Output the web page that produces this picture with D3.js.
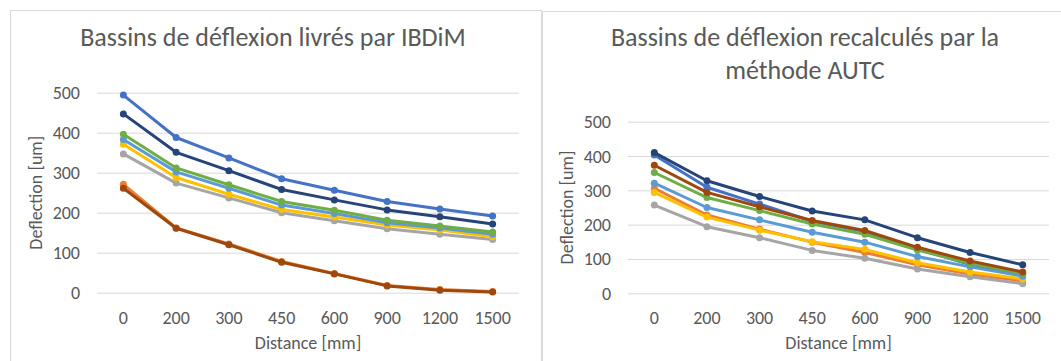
<!DOCTYPE html>
<html><head><meta charset="utf-8">
<script src="https://cdn.jsdelivr.net/npm/d3@7"></script>
<style>
body{margin:0;background:#fff;}
svg text{font-family:Carlito,Calibri,Lato,"Open Sans",sans-serif;fill:#595959;}
</style></head>
<body><svg id="c" width="1061" height="361"></svg>
<script>
const categories = ["0","200","300","450","600","900","1200","1500"];
const yTicks = [0,100,200,300,400,500];
const seriesColors = ["#4472C4","#ED7D31","#A5A5A5","#FFC000","#5B9BD5","#70AD47","#264478","#9E480E"];

// Left chart: IBDiM (series order: blue, orange, gray, yellow, light blue, green, dark blue, brown)
const leftBlue      = [494,388,337,285,256,228,209,192];
const leftOrange    = [271,162,122,78,48,18,8,3];
const leftGray      = [347,274,237,200,180,160,146,133];
const leftYellow    = [371,288,246,208,189,169,157,140];
const leftLightBlue = [383,302,261,219,198,175,162,146];
const leftGreen     = [396,312,270,228,206,181,167,152];
const leftDarkBlue  = [447,351,305,258,232,207,190,172];
const leftBrown     = [261,161,120,76,47,17,6,2];

// Right chart: AUTC
const rightBlue      = [403,309,260,210,180,130,84,56];
const rightOrange    = [306,228,187,149,119,83,56,36];
const rightGray      = [257,194,162,125,102,71,48,28];
const rightYellow    = [294,222,184,150,128,89,62,42];
const rightLightBlue = [321,250,214,178,149,107,77,50];
const rightGreen     = [352,279,241,202,172,126,87,58];
const rightDarkBlue  = [410,328,282,240,214,162,119,83];
const rightBrown     = [373,294,252,212,183,134,94,62];

const leftSeries = [leftBlue,leftOrange,leftGray,leftYellow,leftLightBlue,leftGreen,leftDarkBlue,leftBrown];
const rightSeries = [rightBlue,rightOrange,rightGray,rightYellow,rightLightBlue,rightGreen,rightDarkBlue,rightBrown];

const svg = d3.select("#c");
// chart frames
svg.append("rect").attr("x",10.5).attr("y",10.5).attr("width",531).attr("height",360)
  .attr("fill","#fff").attr("stroke","#D9D9D9");
svg.append("rect").attr("x",542.5).attr("y",11.5).attr("width",530).attr("height",360)
  .attr("fill","#fff").attr("stroke","#D9D9D9");

const TICK_FS = "18px", TITLE_FS = "26px";

function drawChart(cfg){
  const g = svg.append("g");
  const x = d3.scaleBand().domain(categories).range([cfg.x0,cfg.x1]);
  const y = d3.scaleLinear().domain([0,500]).range([cfg.yBottom,cfg.yTop]);
  // title
  cfg.title.forEach((t,i)=>{
    g.append("text").attr("x",cfg.titleX).attr("y",cfg.titleY + i*33)
      .attr("text-anchor","middle").attr("dominant-baseline","central")
      .style("font-size",TITLE_FS).text(t);
  });
  // grid
  const yAxis = d3.axisLeft(y).tickValues(yTicks).tickSize(-(cfg.x1-cfg.x0)).tickPadding(17);
  const ya = g.append("g").attr("transform",`translate(${cfg.x0},0)`).call(yAxis);
  ya.attr("font-family",null).attr("font-size",null);
  ya.select(".domain").remove();
  ya.selectAll("line").attr("stroke","#D9D9D9").attr("stroke-width",1);
  ya.selectAll("text").style("font-size",TICK_FS).attr("fill","#595959")
    .attr("dy",null).attr("dominant-baseline","central");
  const xAxis = d3.axisBottom(x).tickSize(0).tickPadding(25);
  const xa = g.append("g").attr("transform",`translate(0,${cfg.yBottom})`).call(xAxis);
  xa.attr("font-family",null).attr("font-size",null);
  xa.select(".domain").remove();
  xa.selectAll("text").style("font-size",TICK_FS).attr("fill","#595959")
    .attr("dy",null).attr("dominant-baseline","central");
  // axis titles
  g.append("text").attr("x",(cfg.x0+cfg.x1)/2).attr("y",343).attr("text-anchor","middle")
    .attr("dominant-baseline","central").style("font-size",TICK_FS).text("Distance [mm]");
  g.append("text").attr("transform",`translate(${cfg.yTitleX},${(cfg.yTop+cfg.yBottom)/2}) rotate(-90)`)
    .attr("text-anchor","middle").attr("dominant-baseline","central").style("font-size",TICK_FS).text("Deflection [um]");
  const line = d3.line().x((d,i)=>x(categories[i])+x.bandwidth()/2).y(d=>y(d));
  cfg.series.forEach((s,k)=>{
    const sg = g.append("g");
    sg.append("path").datum(s).attr("d",line).attr("fill","none")
      .attr("stroke",seriesColors[k]).attr("stroke-width",3).attr("stroke-linejoin","round").attr("stroke-linecap","round");
    sg.selectAll("circle").data(s).join("circle")
      .attr("cx",(d,i)=>x(categories[i])+x.bandwidth()/2).attr("cy",d=>y(d))
      .attr("r",3.5).attr("fill",seriesColors[k]);
  });
}

drawChart({x0:97,x1:519,yTop:92.7,yBottom:292.7,title:["Bassins de déflexion livrés par IBDiM"],titleX:273,titleY:37,yTitleX:36,series:leftSeries});
drawChart({x0:628,x1:1049,yTop:121.7,yBottom:293.3,title:["Bassins de déflexion recalculés par la","méthode AUTC"],titleX:805,titleY:37,yTitleX:567,series:rightSeries});
</script></body></html>
